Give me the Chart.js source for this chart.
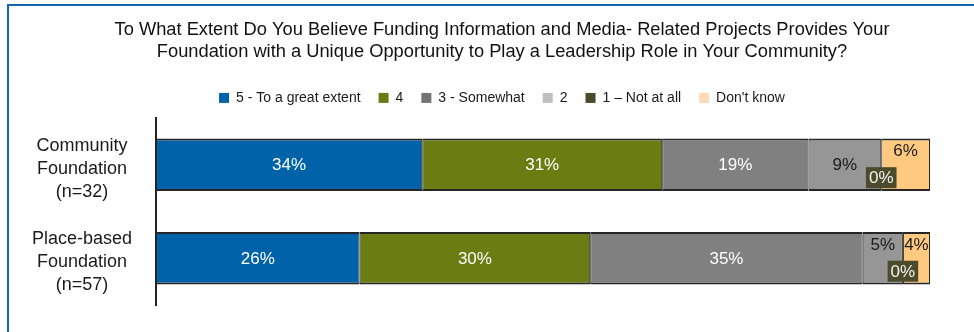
<!DOCTYPE html>
<html>
<head>
<meta charset="utf-8">
<script src="https://cdn.jsdelivr.net/npm/chart.js@4/dist/chart.umd.min.js"></script>
<style>
  html, body { margin: 0; padding: 0; background: #fff; }
  .wrap { position: relative; width: 974px; height: 332px; overflow: hidden; }
  canvas { display: block; }
  .frame {
    position: absolute; left: 7px; top: 4px; right: -10px; bottom: -10px;
    border-top: 2px solid #1565b5; border-left: 2px solid #1565b5;
    pointer-events: none;
  }
</style>
</head>
<body>
<div class="wrap">
  <canvas id="chart" width="974" height="332"></canvas>
  <div class="frame"></div>
</div>
<script>
// groups on the y axis
const categories = [
  ["Community", "Foundation", "(n=32)"],
  ["Place-based", "Foundation", "(n=57)"]
];

// response options, in stacking order
const seriesNames = ["5 - To a great extent", "4", "3 - Somewhat", "2", "1 \u2013 Not at all", "Don't know"];

// percent per group (Community, Place-based)
const greatExtent = [34.4, 26.3];
const four = [31.0, 29.8];
const somewhat = [18.9, 35.2];
const two = [9.4, 5.2];
const notAtAll = [0, 0];
const dontKnow = [6.3, 3.5];

const titleLines = [
  "To What Extent Do You Believe Funding Information and Media- Related Projects Provides Your",
  "Foundation with a Unique Opportunity to Play a Leadership Role in Your Community?"
];

const barColors = ["#0063a9", "#6a7c12", "#808080", "#969696", "#4b4a2a", "#ffc980"];
const legendColors = ["#0063a9", "#6a7c12", "#737373", "#c0c0c0", "#4b4a2a", "#fdd9b5"];
const labelColors = ["#ffffff", "#ffffff", "#ffffff", "#1a1a1a", "#ffffff", "#1a1a1a"];

const values = [greatExtent, four, somewhat, two, notAtAll, dontKnow];
const FONT = "Arial, 'Liberation Sans', sans-serif";

// percent labels inside the segments
const segmentLabels = {
  id: "segmentLabels",
  afterDatasetsDraw(chart) {
    const ctx = chart.ctx;
    ctx.save();
    ctx.font = "17px " + FONT;
    ctx.textAlign = "center";
    ctx.textBaseline = "middle";
    chart.data.datasets.forEach((ds, i) => {
      const meta = chart.getDatasetMeta(i);
      meta.data.forEach((el, j) => {
        const v = ds.data[j];
        const txt = Math.round(v) + "%";
        const cx = (el.x + el.base) / 2;
        const w = Math.abs(el.x - el.base);
        const top = el.y - el.height / 2;
        if (v === 0) {
          const tw = ctx.measureText(txt).width;
          const by = el.y + 13;
          ctx.fillStyle = "#4b4a2a";
          ctx.fillRect(cx - tw / 2 - 3, by - 10.5, tw + 6, 21);
          ctx.fillStyle = "#f2f2f2";
          ctx.fillText(txt, cx, by + 1);
        } else if (w < 60) {
          ctx.fillStyle = labelColors[i];
          ctx.fillText(txt, cx, top + 13);
        } else {
          ctx.fillStyle = labelColors[i];
          ctx.fillText(txt, cx, el.y + 1);
        }
      });
    });
    ctx.restore();
  }
};

// multi-line group names, centred left of the axis
const categoryLabels = {
  id: "categoryLabels",
  afterDraw(chart) {
    const ctx = chart.ctx;
    const yScale = chart.scales.y;
    ctx.save();
    ctx.font = "18px " + FONT;
    ctx.fillStyle = "#1a1a1a";
    ctx.textAlign = "center";
    ctx.textBaseline = "middle";
    chart.data.labels.forEach((lines, i) => {
      const y = yScale.getPixelForValue(i) + 4;
      lines.forEach((line, k) => {
        ctx.fillText(line, yScale.right - 74, y + (k - (lines.length - 1) / 2) * 23);
      });
    });
    ctx.restore();
  }
};

new Chart(document.getElementById("chart"), {
  type: "bar",
  data: {
    labels: categories,
    datasets: seriesNames.map((name, i) => ({
      label: name,
      data: values[i],
      backgroundColor: barColors[i],
      borderColor: "#262626",
      borderWidth: { top: 2, bottom: 2, left: 1, right: 1 },
      borderSkipped: false,
      categoryPercentage: 1,
      barPercentage: 0.562
    }))
  },
  options: {
    indexAxis: "y",
    responsive: false,
    animation: false,
    layout: { padding: { left: 74, right: 44, top: 0, bottom: 27 } },
    scales: {
      x: {
        stacked: true,
        min: 0,
        max: 100,
        position: "top",
        grid: { display: false, drawTicks: false },
        border: { display: false },
        ticks: { display: false },
        afterFit(scale) {
          scale.height = 3;
        }
      },
      y: {
        stacked: true,
        grid: { display: false, drawTicks: false },
        border: { display: true, color: "#222", width: 2 },
        ticks: { display: false },
        afterFit(scale) {
          scale.width = 82;
        }
      }
    },
    plugins: {
      title: {
        display: true,
        text: titleLines,
        color: "#111",
        font: { family: FONT, size: 18.3, weight: "normal", lineHeight: 1.2 },
        padding: { top: 19, bottom: 10 }
      },
      legend: {
        position: "top",
        labels: {
          boxWidth: 10,
          boxHeight: 10,
          padding: 18,
          color: "#1a1a1a",
          font: { family: FONT, size: 14 },
          generateLabels(chart) {
            const items = Chart.defaults.plugins.legend.labels.generateLabels(chart);
            items.forEach((it, i) => {
              it.fillStyle = legendColors[i];
              it.strokeStyle = legendColors[i];
              it.lineWidth = 0;
            });
            return items;
          }
        }
      },
      tooltip: { enabled: false }
    }
  },
  plugins: [segmentLabels, categoryLabels]
});
</script>
</body>
</html>
